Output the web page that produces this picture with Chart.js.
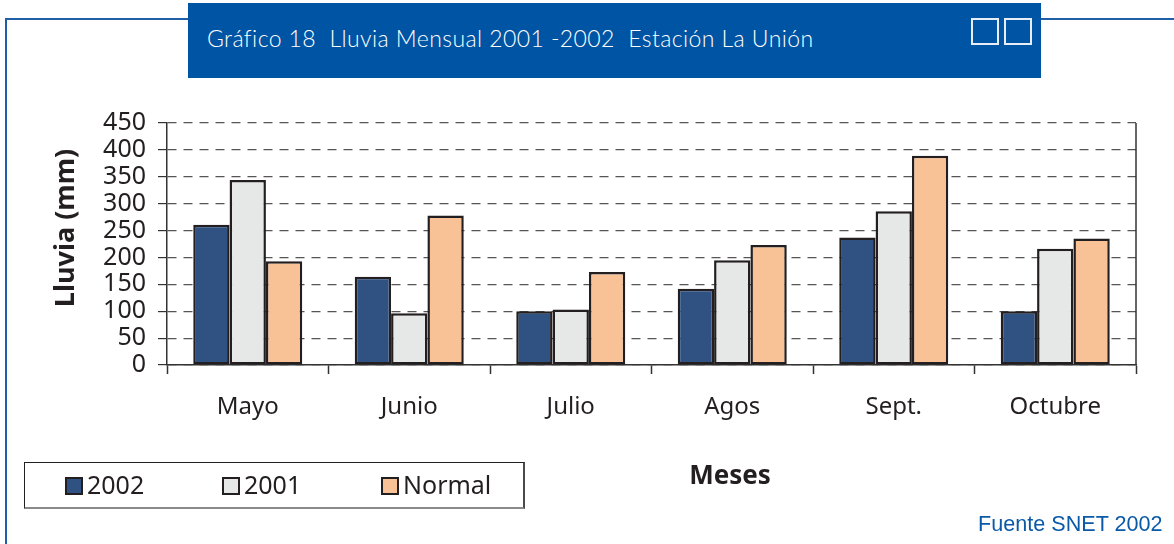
<!DOCTYPE html>
<html>
<head>
<meta charset="utf-8">
<script src="https://cdn.jsdelivr.net/npm/chart.js@4.4.1/dist/chart.umd.min.js"></script>
<style>
  html, body { margin: 0; padding: 0; background: #fff; }
  #page { position: relative; width: 1174px; height: 544px; overflow: hidden; font-family: 'Noto Sans', sans-serif; }
  #frameTop { position: absolute; left: 6px; top: 18px; width: 1168px; height: 2px; background: #1f5fa8; }
  #frameLeft { position: absolute; left: 5px; top: 18px; width: 2px; height: 526px; background: #1f5fa8; }
  #header { position: absolute; left: 188px; top: 3px; width: 853px; height: 75px; background: #0054a4; }
  #header .title { position: absolute; left: 19px; top: 21px; color: #fff; font-family: Lato, sans-serif; font-weight: 300; font-size: 23px; letter-spacing: 0.42px; white-space: pre; }
  #header .sq { position: absolute; top: 15px; width: 24px; height: 23px; border: 2px solid #e8eef6; }
  #chartBox { position: absolute; left: 0; top: 0; width: 1174px; height: 544px; }
  #legend { position: absolute; left: 24px; top: 462px; width: 498px; height: 44px; border: 1px solid #231f20; border-bottom: 2px solid #8a8a8a; border-right: 2px solid #4a4a4a; }
  #legend .item { position: absolute; top: 6px; font-size: 25px; color: #231f20; line-height: 30px; }
  #legend .box { display: inline-block; width: 14px; height: 14px; border: 2px solid #231f20; vertical-align: -1px; margin-right: 4px; }
  #source { position: absolute; left: 978px; top: 511px; color: #0a5aa8; font-family: 'Liberation Sans', Arial, sans-serif; font-size: 21.6px; }
</style>
</head>
<body>
<div id="page">
  <div id="frameTop"></div>
  <div id="frameLeft"></div>
  <div id="header">
    <div class="title">Gráfico 18  Lluvia Mensual 2001 -2002  Estación La Unión</div>
    <div class="sq" style="left:783px"></div>
    <div class="sq" style="left:816px"></div>
  </div>
  <div id="chartBox"><canvas id="c" width="1174" height="544"></canvas></div>
  <div id="legend"></div>
  <div id="source">Fuente SNET 2002</div>
</div>
<script>
// categorias y series (mm)
const meses   = ['Mayo', 'Junio', 'Julio', 'Agos', 'Sept.', 'Octubre'];
const lluvia2002   = [261, 164, 100, 142, 237, 100];
const lluvia2001   = [344,  96, 103, 195, 286, 216];
const lluviaNormal = [193, 278, 173, 223, 389, 235];
const yTicks  = [0, 50, 100, 150, 200, 250, 300, 350, 400, 450];

const SERIES = [
  { label: '2002',   data: lluvia2002,   color: '#2f5283' },
  { label: '2001',   data: lluvia2001,   color: '#e6e8e7' },
  { label: 'Normal', data: lluviaNormal, color: '#f9c196' },
];
const INK = '#231f20';

// textos de ejes y marco derecho
const extras = {
  id: 'extras',
  afterDraw(chart) {
    const { ctx, chartArea: a } = chart;
    ctx.save();
    ctx.strokeStyle = '#333';
    ctx.lineWidth = 1.5;
    ctx.beginPath();
    ctx.moveTo(a.right, a.top);
    ctx.lineTo(a.right, a.bottom);
    ctx.stroke();

    ctx.fillStyle = INK;
    ctx.font = 'bold 26px "Noto Sans"';
    ctx.textAlign = 'center';
    ctx.textBaseline = 'middle';
    ctx.fillText('Meses', 730, 477);

    ctx.font = 'bold 27px "Noto Sans"';
    ctx.translate(66, 228);
    ctx.rotate(-Math.PI / 2);
    ctx.fillText('Lluvia (mm)', 0, 0);
    ctx.restore();
  }
};

new Chart(document.getElementById('c'), {
  type: 'bar',
  data: {
    labels: meses,
    datasets: SERIES.map(s => ({
      label: s.label,
      data: s.data,
      backgroundColor: s.color,
      borderColor: INK,
      borderWidth: 2.5,
      borderSkipped: false,
      barPercentage: 1,
      categoryPercentage: 0.675,
    })),
  },
  options: {
    responsive: false,
    animation: false,
    layout: { padding: { left: 0, top: 123, right: 38, bottom: 119 } },
    plugins: { legend: { display: false }, tooltip: { enabled: false } },
    scales: {
      x: {
        afterFit: s => { s.height = 60; },
        grid: { offset: true, drawOnChartArea: false, drawTicks: true, tickLength: 9, tickColor: '#333', tickWidth: 1.5 },
        border: { color: '#333', width: 1.5 },
        ticks: { color: INK, padding: 19, font: { family: 'Noto Sans', size: 24 } },
      },
      y: {
        min: 0,
        max: 450,
        afterFit: s => { s.width = 167; },
        afterBuildTicks: s => { s.ticks = yTicks.map(v => ({ value: v })); },
        grid: { color: '#555', lineWidth: 1.2, tickColor: '#333', tickLength: 9, tickBorderDash: [] },
        border: { color: '#333', width: 1.5, dash: [9, 7] },
        ticks: { color: INK, padding: 12, autoSkip: false, font: { family: 'Noto Sans', size: 25 } },
      },
    },
  },
  plugins: [extras],
});

// leyenda
const legend = document.getElementById('legend');
const legendX = [40, 197, 356];
SERIES.forEach((s, i) => {
  const it = document.createElement('div');
  it.className = 'item';
  it.style.left = legendX[i] + 'px';
  it.innerHTML = '<span class="box" style="background:' + s.color + '"></span>' + s.label;
  legend.appendChild(it);
});
</script>
</body>
</html>
